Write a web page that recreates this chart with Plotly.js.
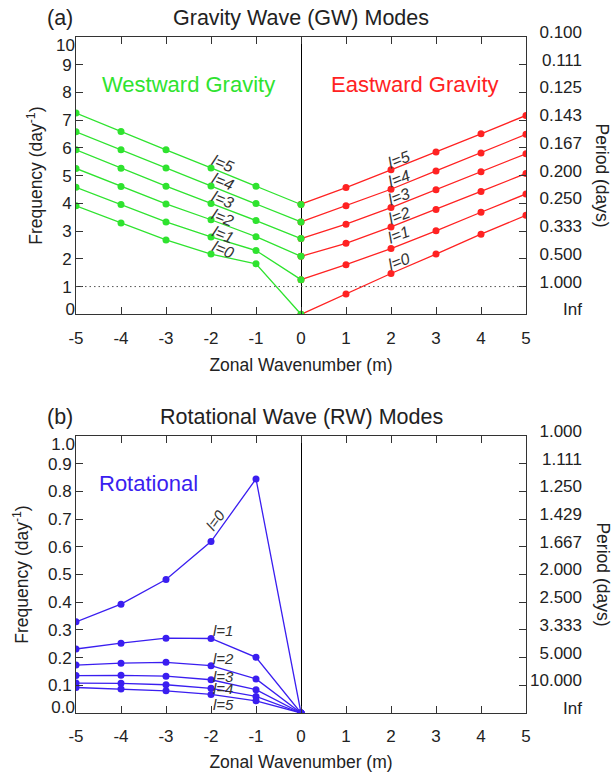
<!DOCTYPE html>
<html>
<head>
<meta charset="utf-8">
<script src="https://cdn.plot.ly/plotly-3.0.1.min.js"></script>
<style>html,body{margin:0;padding:0;background:#fff;}#chart{width:614px;height:772px;}</style>
</head>
<body>
<div id="chart"></div>
<script>
// ---------- data ----------
const mWest = [-5, -4, -3, -2, -1, 0];
const mEast = [0, 1, 2, 3, 4, 5];
const mTicks = [-5, -4, -3, -2, -1, 0, 1, 2, 3, 4, 5];

// Westward gravity (green), l = 0..5
const gwWest0 = [3.91, 3.29, 2.68, 2.17, 1.82, 0.00];
const gwWest1 = [4.58, 3.96, 3.33, 2.79, 2.30, 1.25];
const gwWest2 = [5.26, 4.61, 3.98, 3.41, 2.80, 2.09];
const gwWest3 = [5.93, 5.27, 4.62, 4.00, 3.38, 2.73];
const gwWest4 = [6.58, 5.93, 5.28, 4.63, 4.00, 3.33];
const gwWest5 = [7.26, 6.59, 5.93, 5.28, 4.62, 3.96];

// Eastward gravity (red), l = 0..5
const gwEast0 = [0.00, 0.73, 1.47, 2.17, 2.89, 3.57];
const gwEast1 = [1.25, 1.79, 2.37, 3.01, 3.68, 4.34];
const gwEast2 = [2.09, 2.56, 3.15, 3.78, 4.43, 5.08];
const gwEast3 = [2.73, 3.25, 3.85, 4.49, 5.14, 5.79];
const gwEast4 = [3.33, 3.91, 4.51, 5.17, 5.82, 6.49];
const gwEast5 = [3.97, 4.57, 5.21, 5.85, 6.51, 7.17];

// Rotational (blue), l = 0..5
const rw0 = [0.329, 0.393, 0.482, 0.619, 0.845, 0.0];
const rw1 = [0.231, 0.252, 0.270, 0.269, 0.201, 0.0];
const rw2 = [0.173, 0.180, 0.183, 0.171, 0.123, 0.0];
const rw3 = [0.135, 0.136, 0.133, 0.120, 0.084, 0.0];
const rw4 = [0.108, 0.107, 0.102, 0.089, 0.060, 0.0];
const rw5 = [0.092, 0.087, 0.080, 0.067, 0.044, 0.0];

const gwFreqTicks = [0, 1, 2, 3, 4, 5, 6, 7, 8, 9, 10];
const gwFreqLabels = ['0', '1', '2', '3', '4', '5', '6', '7', '8', '9', '10'];
const gwPeriodLabels = ['Inf', '1.000', '0.500', '0.333', '0.250', '0.200', '0.167', '0.143', '0.125', '0.111', '0.100'];
const rwFreqTicks = [0, 0.1, 0.2, 0.3, 0.4, 0.5, 0.6, 0.7, 0.8, 0.9, 1.0];
const rwFreqLabels = ['0.0', '0.1', '0.2', '0.3', '0.4', '0.5', '0.6', '0.7', '0.8', '0.9', '1.0'];
const rwPeriodLabels = ['Inf', '10.000', '5.000', '3.333', '2.500', '2.000', '1.667', '1.429', '1.250', '1.111', '1.000'];

const modeLabels = ['l=0', 'l=1', 'l=2', 'l=3', 'l=4', 'l=5'];
// label positions (data coords)
const westLabelY = [2.32, 2.86, 3.50, 4.15, 4.79, 5.45];
const eastLabelY = [1.90, 2.86, 3.58, 4.25, 4.91, 5.57];
const rwLabelY = [0.697, 0.298, 0.195, 0.132, 0.090, 0.032];

// ---------- styling ----------
const GREEN = '#2fe32f', RED = '#ff2222', BLUE = '#3a1ef0';
const TXT = '#222';
const FONT = 'Liberation Sans, Arial, Helvetica, sans-serif';
const PLOT_W = 450, PAPER_W = 614 - 76;   // plot area width / paper width (px)
const XDOM = PLOT_W / PAPER_W;
const RLABEL_POS = (582 - 76) / PAPER_W;  // where the right-hand period labels end

function tr(x, y, color, xa, ya) {
  return {x: x, y: y, type: 'scatter', mode: 'lines+markers',
    line: {color: color, width: 1.3}, marker: {color: color, size: 7},
    xaxis: xa, yaxis: ya, hoverinfo: 'skip', showlegend: false};
}
function ghost(xa, ya) {
  return {x: [0], y: [0], xaxis: xa, yaxis: ya, type: 'scatter', mode: 'markers',
    marker: {opacity: 0}, hoverinfo: 'skip', showlegend: false};
}

const eastSets = [gwEast0, gwEast1, gwEast2, gwEast3, gwEast4, gwEast5];
const westSets = [gwWest0, gwWest1, gwWest2, gwWest3, gwWest4, gwWest5];
const rwSets = [rw0, rw1, rw2, rw3, rw4, rw5];

const data = [];
eastSets.forEach(s => data.push(tr(mEast, s, RED, 'x', 'y')));
westSets.forEach(s => data.push(tr(mWest, s, GREEN, 'x', 'y')));
rwSets.forEach(s => data.push(tr(mWest, s, BLUE, 'x2', 'y3')));
['y2', 'y5', 'y7', 'y8'].forEach(a => data.push(ghost('x', a)));
['y4', 'y6', 'y9', 'y10'].forEach(a => data.push(ghost('x2', a)));

const tickFont = {family: FONT, size: 17, color: TXT};
const titleFont = {family: FONT, size: 17.5, color: TXT};

function xax(anchor) {
  return {anchor: anchor, domain: [0, XDOM], range: [-5, 5], tickvals: mTicks, ticktext: mTicks.map(String),
    ticks: 'inside', ticklen: 7, tickcolor: '#333', showline: true, linecolor: '#333', linewidth: 1,
    mirror: 'ticks', showgrid: false, zeroline: true, zerolinecolor: '#000', zerolinewidth: 1,
    tickfont: tickFont, fixedrange: true, ticklabelstandoff: 8,
    title: {text: 'Zonal Wavenumber (m)', font: titleFont, standoff: 12}};
}
// main left axis: frame, ticks, inner labels
function yleft(domain, range, vals, text) {
  const inner = text.map((t, i) => (i === 0 || i === text.length - 1) ? '' : t);
  return {domain: domain, range: range, tickvals: vals, ticktext: inner, ticks: 'inside', ticklen: 7,
    tickcolor: '#333', showline: true, linecolor: '#333', linewidth: 1, showgrid: false, zeroline: false,
    tickfont: tickFont, fixedrange: true,
    title: {text: 'Frequency (day<sup>-1</sup>)', font: titleFont, standoff: 14}};
}
// end labels of the left axis, nudged inward like the original
function yend(over, anchor, range, val, text, shift) {
  return {overlaying: over, side: 'left', anchor: anchor, range: range, tickvals: [val], ticktext: [text],
    ticks: 'inside', ticklen: 7, tickcolor: 'rgba(0,0,0,0)', showline: false, showgrid: false, zeroline: false,
    tickfont: tickFont, fixedrange: true, ticklabelshift: shift};
}
// right frame with inward ticks (no labels)
function yframe(over, anchor, range, vals) {
  return {overlaying: over, side: 'right', anchor: anchor, range: range, tickvals: vals,
    ticks: 'inside', ticklen: 7, tickcolor: '#333', showline: true, linecolor: '#333', linewidth: 1,
    showgrid: false, zeroline: false, showticklabels: false, fixedrange: true};
}
// right-aligned period labels
function yperiod(over, range, vals, text) {
  return {overlaying: over, side: 'left', anchor: 'free', position: RLABEL_POS, range: range,
    tickvals: vals, ticktext: text, ticks: '', showline: false, showgrid: false, zeroline: false,
    tickfont: tickFont, fixedrange: true, ticklabelshift: -5};
}

const domA = [0.5898, 1], domB = [0, 0.4098];
const bigFont = {family: FONT, size: 21.5, color: TXT};

const annotations = [
  {xref: 'x domain', yref: 'y domain', x: -0.036, y: 1.068, text: '(a)', showarrow: false, font: bigFont, xanchor: 'center', yanchor: 'middle'},
  {xref: 'x domain', yref: 'y domain', x: 0.5, y: 1.068, text: 'Gravity Wave (GW) Modes', showarrow: false, font: bigFont, xanchor: 'center', yanchor: 'middle'},
  {xref: 'x2 domain', yref: 'y3 domain', x: -0.036, y: 1.07, text: '(b)', showarrow: false, font: bigFont, xanchor: 'center', yanchor: 'middle'},
  {xref: 'x2 domain', yref: 'y3 domain', x: 0.5, y: 1.07, text: 'Rotational Wave (RW) Modes', showarrow: false, font: bigFont, xanchor: 'center', yanchor: 'middle'},
  {xref: 'x domain', yref: 'y domain', x: 1.169, y: 0.5, text: 'Period (days)', textangle: 90, showarrow: false, font: titleFont, xanchor: 'center', yanchor: 'middle'},
  {xref: 'x2 domain', yref: 'y3 domain', x: 1.169, y: 0.5, text: 'Period (days)', textangle: 90, showarrow: false, font: titleFont, xanchor: 'center', yanchor: 'middle'},
  {xref: 'x', yref: 'y', x: -2.49, y: 8.28, text: 'Westward Gravity', showarrow: false, font: {family: FONT, size: 22, color: GREEN}, xanchor: 'center', yanchor: 'middle'},
  {xref: 'x', yref: 'y', x: 2.53, y: 8.28, text: 'Eastward Gravity', showarrow: false, font: {family: FONT, size: 22, color: RED}, xanchor: 'center', yanchor: 'middle'},
  {xref: 'x2', yref: 'y3', x: -3.4, y: 0.829, text: 'Rotational', showarrow: false, font: {family: FONT, size: 22, color: BLUE}, xanchor: 'center', yanchor: 'middle'}
];
const lblFont = {family: FONT, size: 16, color: '#333', style: 'italic'};
const lblFontB = {family: FONT, size: 15, color: '#333', style: 'italic'};
modeLabels.forEach((t, i) => {
  annotations.push({xref: 'x', yref: 'y', x: -1.74, y: westLabelY[i], text: t, textangle: 22, showarrow: false, font: lblFont, xanchor: 'center', yanchor: 'middle'});
  annotations.push({xref: 'x', yref: 'y', x: 2.18, y: eastLabelY[i], text: t, textangle: -21, showarrow: false, font: lblFont, xanchor: 'center', yanchor: 'middle'});
  if (i === 0) {
    annotations.push({xref: 'x2', yref: 'y3', x: -1.89, y: rwLabelY[i], text: t, textangle: -54, showarrow: false, font: lblFontB, xanchor: 'center', yanchor: 'middle'});
  } else {
    annotations.push({xref: 'x2', yref: 'y3', x: -2.0, y: rwLabelY[i], text: t, showarrow: false, font: lblFontB, xanchor: 'left', yanchor: 'middle'});
  }
});

const layout = {
  width: 614, height: 772,
  margin: {l: 76, r: 0, t: 37, b: 59},
  paper_bgcolor: '#fff', plot_bgcolor: '#fff',
  showlegend: false,
  font: {family: FONT, color: TXT},
  xaxis: xax('y'),
  yaxis: yleft(domA, [0, 10], gwFreqTicks, gwFreqLabels),
  yaxis2: yframe('y', 'x', [0, 10], gwFreqTicks),
  yaxis5: yperiod('y', [0, 10], gwFreqTicks, gwPeriodLabels),
  yaxis7: yend('y', 'x', [0, 10], gwFreqTicks[0], gwFreqLabels[0], -5),
  yaxis8: yend('y', 'x', [0, 10], gwFreqTicks[10], gwFreqLabels[10], 8),
  xaxis2: xax('y3'),
  yaxis3: yleft(domB, [0, 1], rwFreqTicks, rwFreqLabels),
  yaxis4: yframe('y3', 'x2', [0, 1], rwFreqTicks),
  yaxis6: yperiod('y3', [0, 1], rwFreqTicks, rwPeriodLabels),
  yaxis9: yend('y3', 'x2', [0, 1], rwFreqTicks[0], rwFreqLabels[0], -6),
  yaxis10: yend('y3', 'x2', [0, 1], rwFreqTicks[10], rwFreqLabels[10], 8),
  shapes: [
    {type: 'line', xref: 'x domain', yref: 'y', x0: 0, x1: 1, y0: 1, y1: 1, line: {color: '#555', width: 1, dash: '1.5px,3px'}}
  ],
  annotations: annotations
};

Plotly.newPlot('chart', data, layout, {staticPlot: true, displayModeBar: false});
</script>
</body>
</html>
